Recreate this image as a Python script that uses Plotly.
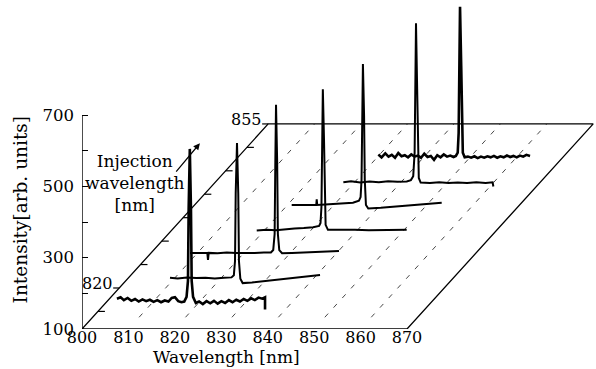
import plotly.graph_objects as go

# ---------------- data ----------------
injection_nm = [820, 825, 830, 835, 840, 845, 850]

# spectra (wavelength nm, intensity arb. units)
t1_wl = [799.5, 800.3, 801.0, 801.8, 802.6, 803.4, 804.2, 805.0, 805.8, 806.6, 807.4, 808.2, 809.0, 809.8,
         810.6, 811.3, 812.0, 812.7, 813.4, 814.0, 814.5, 814.8, 814.95, 815.2, 815.45, 815.6, 815.9, 816.5,
         817.2, 818.0, 818.8, 819.6, 820.4, 821.2, 822.0, 822.8, 823.6, 824.4, 825.2, 826.0, 826.8, 827.6,
         828.4, 829.2, 830.0, 830.8, 831.4, 831.4]
t1_int = [70, 74, 66, 72, 64, 69, 62, 68, 63, 67, 61, 66, 60, 65,
          62, 72, 74, 63, 60, 62, 75, 120, 320, 490, 320, 120, 75, 58,
          62, 55, 63, 57, 64, 56, 63, 58, 66, 60, 67, 62, 69, 64,
          71, 66, 73, 70, 74, 40]

t2_wl = [806.35, 808, 810, 812, 814, 816, 818, 819.6, 820.1, 820.35, 820.5, 820.78, 821.05, 821.2, 821.5,
         822.0, 824, 826, 828, 830, 832, 834, 836, 838.66]
t2_int = [63, 61, 64, 62, 63, 61, 63, 64, 70, 110, 300, 441, 300, 110, 60,
          48, 50, 53, 55, 58, 61, 64, 67, 71]

t3_wl = [806.07, 808, 809.8, 809.95, 810.1, 812, 814, 816, 818, 820, 822, 823.5, 824.0, 824.3, 824.45,
         824.6, 824.85, 825.0, 825.3, 825.9, 828, 830, 832, 834, 836, 838.16]
t3_int = [67, 66, 67, 47, 67, 66, 68, 67, 66, 67, 68, 68, 75, 120, 320,
          482, 320, 120, 75, 66, 67, 68, 67, 69, 70, 72]

t4_wl = [815.86, 818, 820, 822, 824, 826, 828, 829.3, 829.6, 829.8, 829.95, 830.1, 830.35, 830.5, 830.7,
         831.2, 834, 837, 840, 843, 846, 848.16]
t4_int = [64, 66, 65, 68, 70, 71, 73, 77, 85, 130, 320, 460, 320, 130, 80,
          66, 65, 66, 65, 66, 65, 66]

t5_wl = [818.81, 821, 823, 824.1, 824.2, 824.3, 826, 828, 830, 832, 833.3, 833.65, 833.85, 834.0, 834.15,
         834.4, 834.55, 834.8, 835.3, 838, 841, 844, 847, 849, 851.12]
t5_int = [70, 70, 69, 70, 86, 70, 71, 72, 74, 76, 82, 92, 140, 320, 465,
          320, 140, 70, 60, 62, 65, 68, 71, 73, 76]

t6_wl = [825.35, 827, 829, 831, 833, 835, 837, 839, 839.9, 840.4, 840.7, 840.87, 841.0, 841.25, 841.4,
         841.6, 842.0, 844, 846, 848, 850, 852, 854, 856, 857.5, 857.66]
t6_int = [68, 71, 67, 70, 68, 71, 69, 70, 74, 85, 150, 330, 514, 330, 150,
          80, 67, 66, 68, 66, 67, 66, 68, 66, 68, 56]

t7_wl = [828.31, 829.0, 829.8, 830.5, 831.2, 831.9, 832.6, 833.3, 834.0, 834.7, 835.4, 836.1, 836.8, 837.5,
         838.2, 838.9, 839.6, 840.3, 841.0, 841.7, 842.4, 843.1, 843.8, 844.5, 845.0, 845.4, 845.6, 845.78,
         845.9, 846.15, 846.3, 846.5, 846.9, 847.6, 848.3, 849.0, 849.7, 850.4, 851.1, 851.8, 852.5, 853.2,
         853.9, 854.6, 855.3, 856.0, 856.7, 857.4, 858.1, 858.8, 859.5, 860.2, 860.98]
t7_int = [80, 72, 83, 74, 79, 71, 84, 75, 78, 72, 80, 74, 77, 71,
          82, 73, 76, 65, 78, 72, 80, 74, 77, 73, 76, 85, 140, 330,
          494, 330, 140, 85, 72, 74, 71, 75, 70, 74, 71, 75, 72, 76,
          71, 75, 72, 77, 73, 76, 72, 77, 74, 79, 76]

spectra_wl = [t1_wl, t2_wl, t3_wl, t4_wl, t5_wl, t6_wl, t7_wl]
spectra_int = [t1_int, t2_int, t3_int, t4_int, t5_int, t6_int, t7_int]

wavelength_ticks = [800, 810, 820, 830, 840, 850, 860, 870]
intensity_ticks = [100, 200, 300, 400, 500, 600, 700]
intensity_labels = ["100", "", "300", "", "500", "", "700"]
depth_ticks = [815, 820, 825, 830, 835, 840, 845, 850, 855]
depth_labels = {820: "820", 855: "855"}
grid_wavelengths = [810, 820, 830, 840, 850, 860]

# ---------------- oblique projection of the injection-wavelength (depth) axis ----------------
DEPTH0, DEPTH1 = 811.25, 855.0      # front corner / back edge of the floor
SHIFT_X, SHIFT_Y = 40.1, 575.0      # screen shift of the full depth (nm, intensity units)
FLOOR = 100.0
KX = SHIFT_X / (DEPTH1 - DEPTH0)
KY = SHIFT_Y / (DEPTH1 - DEPTH0)


def proj(wl, inten, depth):
    return wl + (depth - DEPTH0) * KX, inten + (depth - DEPTH0) * KY


FONT = "DejaVu Serif"
fig = go.Figure()


def seg(xs, ys, width=1.2, dash=None, color="black"):
    fig.add_trace(go.Scatter(x=xs, y=ys, mode="lines", hoverinfo="skip", showlegend=False,
                             line=dict(color=color, width=width, dash=dash)))


# dashed floor grid
for g in grid_wavelengths:
    x0, y0 = proj(g, FLOOR, DEPTH0 + 2.5)
    x1, y1 = proj(g, FLOOR, DEPTH1)
    seg([x0, x1], [y0, y1], width=0.9, dash="5px,8px", color="#333")

# floor outline
lmin, lmax = wavelength_ticks[0], wavelength_ticks[-1]
corners = [proj(lmin, FLOOR, DEPTH0), proj(lmax, FLOOR, DEPTH0), proj(lmax, FLOOR, DEPTH1),
           proj(lmin, FLOOR, DEPTH1), proj(lmin, FLOOR, DEPTH0)]
seg([c[0] for c in corners], [c[1] for c in corners], width=1.3)

# vertical intensity axis line
seg([lmin, lmin], [intensity_ticks[0], intensity_ticks[-1]], width=1.4)

# depth axis ticks and labels
for d in depth_ticks:
    x, y = proj(lmin, FLOOR, d)
    if d in depth_labels:
        seg([x - 1.3, x], [y, y], width=1.2)
        fig.add_annotation(x=x - 1.0, y=y + 13, xref="x", yref="y", text=depth_labels[d],
                           showarrow=False, xanchor="right", yanchor="middle",
                           font=dict(family=FONT, size=16, color="black"))
    else:
        seg([x, x + 1.5], [y, y], width=1.2)

# spectra
for i, (inj, wl, it) in enumerate(zip(injection_nm, spectra_wl, spectra_int)):
    xs, ys = zip(*[proj(w, v, inj) for w, v in zip(wl, it)])
    width = 2.6 if i in (0, 6) else 2.0
    fig.add_trace(go.Scatter(x=list(xs), y=list(ys), mode="lines", hoverinfo="skip", showlegend=False,
                             line=dict(color="black", width=width)))

# layout geometry (pixels)
H_AREA = 339.0          # plot area height (369 - bottom margin)
FLOOR_PX = 10.0         # floor edge above the bottom of the plot area
LABEL_RAISE = 3.0       # raise wavelength labels towards the floor edge

# labels
fig.add_annotation(x=811.4, y=509, xref="x", yref="y", text="Injection<br>wavelength<br>[nm]",
                   showarrow=False, align="center", xanchor="center", yanchor="middle",
                   font=dict(family=FONT, size=17, color="black"))
fig.add_annotation(x=825.4, y=621, xref="x", yref="y", text="", showarrow=True,
                   ax=-25, ay=30, arrowhead=2, arrowsize=1.1, arrowwidth=1.2, arrowcolor="black")
fig.add_annotation(x=831.2, y=-29 / H_AREA, xref="x", yref="paper", text="Wavelength [nm]", showarrow=False,
                   xanchor="center", yanchor="bottom", borderpad=0,
                   font=dict(family=FONT, size=17, color="black"))
fig.add_annotation(x=-61.5 / 514, y=434, xref="paper", yref="y", text="Intensity[arb. units]",
                   showarrow=False, textangle=-90, xanchor="center", yanchor="middle",
                   font=dict(family=FONT, size=18.5, color="black"))

fig.update_layout(
    width=596, height=369, template="none",
    margin=dict(l=82, r=0, t=0, b=369 - H_AREA),
    paper_bgcolor="white", plot_bgcolor="white",
    showlegend=False,
    xaxis=dict(range=[800, 910.7], showgrid=False, zeroline=False, showline=False,
               anchor="free", position=(FLOOR_PX + LABEL_RAISE) / H_AREA,
               tickmode="array", tickvals=wavelength_ticks, ticks="", ticklen=0,
               tickfont=dict(family=FONT, size=16, color="black"), fixedrange=True),
    yaxis=dict(range=[100, 1022.5], domain=[FLOOR_PX / H_AREA, 1],
               showgrid=False, zeroline=False, showline=False,
               tickmode="array", tickvals=intensity_ticks, ticktext=intensity_labels,
               ticks="inside", ticklen=6, tickwidth=1.3, tickcolor="black",
               ticklabelstandoff=7,
               tickfont=dict(family=FONT, size=16.5, color="black"), fixedrange=True),
)

fig.write_html("out.html", config={"displayModeBar": False},
               post_script="document.body.style.margin='0';document.body.style.padding='0';")
